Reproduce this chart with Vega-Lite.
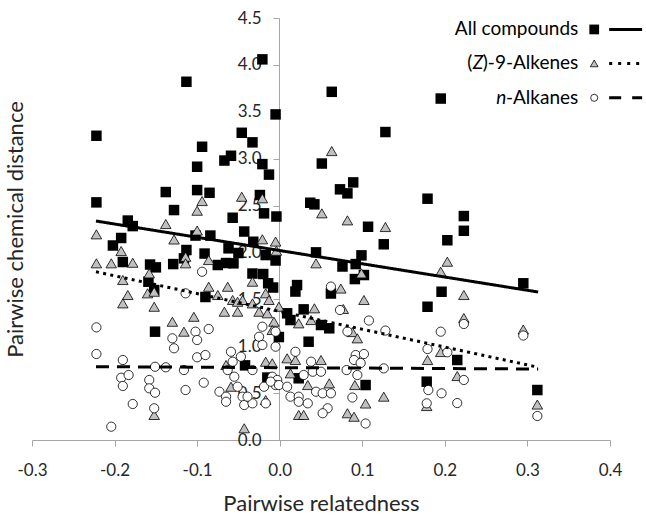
{
  "$schema": "https://vega.github.io/schema/vega-lite/v6.json",
  "width": 578,
  "height": 422,
  "autosize": {"type": "none"},
  "padding": {"left": 32, "top": 18, "right": 36, "bottom": 76},
  "background": "white",
  "config": {"view": {"stroke": null}, "font": "Lato"},
  "datasets": {
    "compounds": [
      {"relatedness":-0.222,"distance":3.244},{"relatedness":-0.222,"distance":2.534},{"relatedness":-0.113,"distance":3.820},{"relatedness":-0.021,"distance":4.059},{"relatedness":-0.005,"distance":3.472},{"relatedness":-0.046,"distance":3.276},{"relatedness":-0.033,"distance":3.174},{"relatedness":-0.094,"distance":3.127},{"relatedness":-0.067,"distance":2.980},{"relatedness":-0.059,"distance":3.031},{"relatedness":-0.100,"distance":2.914},{"relatedness":-0.021,"distance":2.942},{"relatedness":-0.013,"distance":2.830},{"relatedness":-0.138,"distance":2.644},{"relatedness":-0.100,"distance":2.665},{"relatedness":-0.085,"distance":2.636},{"relatedness":-0.128,"distance":2.452},{"relatedness":-0.024,"distance":2.612},{"relatedness":-0.019,"distance":2.417},{"relatedness":-0.004,"distance":2.383},{"relatedness":-0.057,"distance":2.370},{"relatedness":-0.184,"distance":2.340},{"relatedness":-0.178,"distance":2.281},{"relatedness":-0.043,"distance":2.223},{"relatedness":-0.084,"distance":2.180},{"relatedness":-0.102,"distance":2.180},{"relatedness":-0.192,"distance":2.154},{"relatedness":-0.202,"distance":2.074},{"relatedness":-0.032,"distance":2.114},{"relatedness":-0.113,"distance":2.026},{"relatedness":-0.062,"distance":2.044},{"relatedness":-0.050,"distance":1.994},{"relatedness":-0.091,"distance":1.988},{"relatedness":-0.017,"distance":1.972},{"relatedness":-0.190,"distance":1.898},{"relatedness":-0.116,"distance":1.937},{"relatedness":0.063,"distance":3.713},{"relatedness":0.195,"distance":3.641},{"relatedness":0.128,"distance":3.284},{"relatedness":0.051,"distance":2.948},{"relatedness":0.073,"distance":2.673},{"relatedness":0.089,"distance":2.747},{"relatedness":0.082,"distance":2.630},{"relatedness":0.037,"distance":2.530},{"relatedness":0.042,"distance":2.513},{"relatedness":0.179,"distance":2.573},{"relatedness":0.223,"distance":2.388},{"relatedness":0.223,"distance":2.231},{"relatedness":0.107,"distance":2.274},{"relatedness":0.126,"distance":2.087},{"relatedness":0.203,"distance":2.130},{"relatedness":0.099,"distance":1.969},{"relatedness":0.044,"distance":2.001},{"relatedness":-0.157,"distance":1.871},{"relatedness":-0.150,"distance":1.841},{"relatedness":-0.129,"distance":1.876},{"relatedness":-0.159,"distance":1.688},{"relatedness":-0.152,"distance":1.599},{"relatedness":-0.090,"distance":1.525},{"relatedness":-0.151,"distance":1.155},{"relatedness":-0.075,"distance":1.866},{"relatedness":-0.065,"distance":1.887},{"relatedness":-0.056,"distance":1.884},{"relatedness":-0.033,"distance":1.775},{"relatedness":-0.020,"distance":1.770},{"relatedness":-0.014,"distance":1.671},{"relatedness":-0.008,"distance":1.626},{"relatedness":-0.005,"distance":1.914},{"relatedness":-0.042,"distance":0.796},{"relatedness":-0.015,"distance":0.666},{"relatedness":0.021,"distance":1.652},{"relatedness":0.019,"distance":1.583},{"relatedness":0.062,"distance":1.562},{"relatedness":0.076,"distance":1.850},{"relatedness":0.009,"distance":1.351},{"relatedness":0.013,"distance":1.279},{"relatedness":0.029,"distance":1.393},{"relatedness":0.050,"distance":1.226},{"relatedness":0.060,"distance":1.191},{"relatedness":-0.001,"distance":1.098},{"relatedness":0.035,"distance":1.048},{"relatedness":0.023,"distance":0.658},{"relatedness":0.092,"distance":1.876},{"relatedness":0.091,"distance":1.716},{"relatedness":0.102,"distance":1.759},{"relatedness":0.179,"distance":1.421},{"relatedness":0.104,"distance":0.586},{"relatedness":0.178,"distance":0.622},{"relatedness":0.196,"distance":1.581},{"relatedness":0.295,"distance":1.671},{"relatedness":0.215,"distance":0.853},{"relatedness":0.312,"distance":0.533}
    ],
    "alkenes": [
      {"relatedness":-0.222,"distance":2.193},{"relatedness":-0.138,"distance":2.303},{"relatedness":-0.128,"distance":2.138},{"relatedness":-0.100,"distance":2.234},{"relatedness":-0.100,"distance":2.445},{"relatedness":-0.094,"distance":2.548},{"relatedness":-0.046,"distance":2.594},{"relatedness":-0.021,"distance":2.577},{"relatedness":-0.021,"distance":2.140},{"relatedness":-0.005,"distance":2.116},{"relatedness":-0.004,"distance":2.018},{"relatedness":-0.192,"distance":2.015},{"relatedness":0.063,"distance":3.081},{"relatedness":0.051,"distance":2.417},{"relatedness":0.082,"distance":2.342},{"relatedness":0.128,"distance":2.271},{"relatedness":0.203,"distance":1.901},{"relatedness":0.195,"distance":1.794},{"relatedness":-0.222,"distance":1.884},{"relatedness":-0.204,"distance":1.884},{"relatedness":-0.178,"distance":1.890},{"relatedness":-0.190,"distance":1.706},{"relatedness":-0.158,"distance":1.777},{"relatedness":-0.184,"distance":1.546},{"relatedness":-0.190,"distance":1.457},{"relatedness":-0.160,"distance":1.564},{"relatedness":-0.152,"distance":1.581},{"relatedness":-0.152,"distance":1.421},{"relatedness":-0.114,"distance":1.954},{"relatedness":-0.114,"distance":1.884},{"relatedness":-0.086,"distance":1.634},{"relatedness":-0.130,"distance":1.261},{"relatedness":-0.104,"distance":1.314},{"relatedness":-0.116,"distance":1.155},{"relatedness":-0.152,"distance":0.267},{"relatedness":-0.086,"distance":1.919},{"relatedness":-0.075,"distance":1.546},{"relatedness":-0.063,"distance":1.634},{"relatedness":-0.057,"distance":1.493},{"relatedness":-0.051,"distance":1.474},{"relatedness":-0.067,"distance":1.368},{"relatedness":-0.051,"distance":1.368},{"relatedness":-0.033,"distance":1.688},{"relatedness":-0.033,"distance":1.457},{"relatedness":-0.045,"distance":1.493},{"relatedness":-0.025,"distance":1.368},{"relatedness":-0.017,"distance":1.564},{"relatedness":-0.013,"distance":1.493},{"relatedness":-0.015,"distance":1.351},{"relatedness":-0.007,"distance":1.261},{"relatedness":-0.009,"distance":1.173},{"relatedness":-0.065,"distance":0.800},{"relatedness":-0.017,"distance":0.835},{"relatedness":-0.009,"distance":0.818},{"relatedness":-0.059,"distance":0.568},{"relatedness":-0.017,"distance":0.426},{"relatedness":-0.043,"distance":0.125},{"relatedness":-0.001,"distance":1.421},{"relatedness":0.044,"distance":1.884},{"relatedness":0.074,"distance":1.615},{"relatedness":0.042,"distance":1.404},{"relatedness":0.038,"distance":1.279},{"relatedness":0.023,"distance":1.244},{"relatedness":0.009,"distance":0.871},{"relatedness":0.019,"distance":0.853},{"relatedness":0.013,"distance":0.711},{"relatedness":0.050,"distance":0.853},{"relatedness":0.034,"distance":0.586},{"relatedness":0.060,"distance":0.604},{"relatedness":0.023,"distance":0.267},{"relatedness":0.029,"distance":0.267},{"relatedness":0.082,"distance":0.285},{"relatedness":0.099,"distance":1.777},{"relatedness":0.102,"distance":1.493},{"relatedness":0.077,"distance":1.397},{"relatedness":0.088,"distance":1.151},{"relatedness":0.094,"distance":1.084},{"relatedness":0.091,"distance":0.586},{"relatedness":0.104,"distance":0.389},{"relatedness":0.126,"distance":0.462},{"relatedness":0.090,"distance":0.248},{"relatedness":0.179,"distance":0.853},{"relatedness":0.223,"distance":1.546},{"relatedness":0.223,"distance":1.301},{"relatedness":0.295,"distance":1.178},{"relatedness":0.195,"distance":0.938},{"relatedness":0.215,"distance":0.682},{"relatedness":0.312,"distance":0.378},{"relatedness":0.178,"distance":0.362}
    ],
    "alkanes": [
      {"relatedness":-0.222,"distance":1.201},{"relatedness":-0.222,"distance":0.917},{"relatedness":-0.094,"distance":1.794},{"relatedness":-0.114,"distance":1.564},{"relatedness":-0.130,"distance":1.084},{"relatedness":-0.128,"distance":0.978},{"relatedness":-0.102,"distance":1.155},{"relatedness":-0.100,"distance":1.066},{"relatedness":-0.086,"distance":1.183},{"relatedness":-0.100,"distance":0.882},{"relatedness":-0.090,"distance":0.906},{"relatedness":-0.190,"distance":0.853},{"relatedness":-0.192,"distance":0.664},{"relatedness":-0.183,"distance":0.693},{"relatedness":-0.190,"distance":0.576},{"relatedness":-0.151,"distance":0.781},{"relatedness":-0.138,"distance":0.775},{"relatedness":-0.116,"distance":0.746},{"relatedness":-0.158,"distance":0.640},{"relatedness":-0.158,"distance":0.551},{"relatedness":-0.151,"distance":0.504},{"relatedness":-0.114,"distance":0.533},{"relatedness":-0.092,"distance":0.611},{"relatedness":-0.178,"distance":0.384},{"relatedness":-0.152,"distance":0.338},{"relatedness":-0.204,"distance":0.142},{"relatedness":-0.021,"distance":1.208},{"relatedness":-0.025,"distance":1.101},{"relatedness":-0.021,"distance":1.013},{"relatedness":-0.005,"distance":1.155},{"relatedness":-0.005,"distance":0.995},{"relatedness":-0.059,"distance":0.941},{"relatedness":-0.047,"distance":0.888},{"relatedness":-0.057,"distance":0.835},{"relatedness":-0.033,"distance":0.746},{"relatedness":-0.055,"distance":0.675},{"relatedness":-0.009,"distance":0.675},{"relatedness":-0.003,"distance":0.640},{"relatedness":-0.073,"distance":0.515},{"relatedness":-0.065,"distance":0.462},{"relatedness":-0.065,"distance":0.408},{"relatedness":-0.051,"distance":0.568},{"relatedness":-0.045,"distance":0.462},{"relatedness":-0.043,"distance":0.373},{"relatedness":-0.033,"distance":0.391},{"relatedness":-0.019,"distance":0.568},{"relatedness":-0.017,"distance":0.391},{"relatedness":-0.005,"distance":0.586},{"relatedness":-0.011,"distance":0.622},{"relatedness":-0.039,"distance":0.462},{"relatedness":-0.063,"distance":0.746},{"relatedness":0.062,"distance":1.636},{"relatedness":0.073,"distance":1.386},{"relatedness":0.019,"distance":0.941},{"relatedness":0.038,"distance":0.835},{"relatedness":0.040,"distance":0.728},{"relatedness":0.050,"distance":0.728},{"relatedness":0.029,"distance":0.693},{"relatedness":0.081,"distance":0.746},{"relatedness":-0.001,"distance":0.586},{"relatedness":0.009,"distance":0.568},{"relatedness":0.013,"distance":0.462},{"relatedness":0.023,"distance":0.462},{"relatedness":0.023,"distance":0.408},{"relatedness":0.034,"distance":0.391},{"relatedness":0.044,"distance":0.515},{"relatedness":0.052,"distance":0.498},{"relatedness":0.062,"distance":0.498},{"relatedness":0.058,"distance":0.338},{"relatedness":0.052,"distance":0.285},{"relatedness":0.088,"distance":0.453},{"relatedness":0.108,"distance":1.274},{"relatedness":0.128,"distance":1.167},{"relatedness":0.082,"distance":1.157},{"relatedness":0.092,"distance":0.906},{"relatedness":0.102,"distance":0.917},{"relatedness":0.090,"distance":0.853},{"relatedness":0.098,"distance":0.821},{"relatedness":0.094,"distance":0.693},{"relatedness":0.126,"distance":0.764},{"relatedness":0.104,"distance":0.176},{"relatedness":0.195,"distance":1.155},{"relatedness":0.223,"distance":1.237},{"relatedness":0.295,"distance":1.114},{"relatedness":0.179,"distance":0.970},{"relatedness":0.203,"distance":0.935},{"relatedness":0.223,"distance":0.640},{"relatedness":0.180,"distance":0.533},{"relatedness":0.196,"distance":0.498},{"relatedness":0.178,"distance":0.391},{"relatedness":0.215,"distance":0.394},{"relatedness":0.312,"distance":0.256}
    ],
    "trends": [
      {"series":"All compounds","relatedness":-0.2225,"distance":2.335},
      {"series":"All compounds","relatedness":0.313,"distance":1.578},
      {"series":"(Z)-9-Alkenes","relatedness":-0.2225,"distance":1.794},
      {"series":"(Z)-9-Alkenes","relatedness":0.312,"distance":0.778},
      {"series":"n-Alkanes","relatedness":-0.2225,"distance":0.782},
      {"series":"n-Alkanes","relatedness":0.313,"distance":0.757}
    ]
  },
  "layer": [
    {
      "data": {"name": "compounds"},
      "mark": {"type": "point", "shape": "square", "filled": true, "color": "#000000", "size": 110, "opacity": 1},
      "encoding": {
        "x": {
          "field": "relatedness", "type": "quantitative",
          "scale": {"domain": [-0.3, 0.4], "nice": false, "zero": false},
          "axis": {
            "title": "Pairwise relatedness",
            "values": [-0.3, -0.2, -0.1, 0, 0.1, 0.2, 0.3, 0.4],
            "labelExpr": "replace(format(datum.value, '.1f'), '\u2212', '-')",
            "grid": false, "domainColor": "#a6a6a6", "tickColor": "#a6a6a6", "tickSize": 6,
            "labelFontSize": 17, "labelColor": "#262626", "labelPadding": 16, "labelFlush": false, "labelOverlap": false,
            "titleFontSize": 22, "titleFontWeight": "normal", "titleColor": "#262626", "titlePadding": 15
          }
        },
        "y": {
          "field": "distance", "type": "quantitative",
          "scale": {"domain": [0, 4.5], "nice": false, "zero": true},
          "axis": {
            "title": "Pairwise chemical distance",
            "values": [0, 0.5, 1, 1.5, 2, 2.5, 3, 3.5, 4, 4.5],
            "format": ".1f",
            "offset": -247,
            "grid": false, "domainColor": "#a6a6a6", "tickColor": "#a6a6a6", "tickSize": 6,
            "labelFontSize": 17, "labelColor": "#262626", "labelPadding": 12, "labelFlush": false, "labelOverlap": false,
            "titleFontSize": 22, "titleFontWeight": "normal", "titleColor": "#262626",
            "titleX": -264, "titleY": 211, "titleAngle": -90, "titleAlign": "center", "titleBaseline": "middle"
          }
        }
      }
    },
    {
      "data": {"name": "alkenes"},
      "mark": {"type": "point", "shape": "triangle-up", "filled": true, "fill": "#c0c0c0", "stroke": "#000000", "strokeWidth": 0.8, "size": 110, "opacity": 1},
      "encoding": {
        "x": {"field": "relatedness", "type": "quantitative"},
        "y": {"field": "distance", "type": "quantitative"}
      }
    },
    {
      "data": {"name": "alkanes"},
      "mark": {"type": "point", "shape": "circle", "filled": true, "fill": "#ffffff", "stroke": "#000000", "strokeWidth": 0.8, "size": 85, "opacity": 1},
      "encoding": {
        "x": {"field": "relatedness", "type": "quantitative"},
        "y": {"field": "distance", "type": "quantitative"}
      }
    },
    {
      "data": {"name": "trends"},
      "mark": {"type": "line", "color": "#000000", "strokeWidth": 3, "strokeCap": "butt"},
      "encoding": {
        "x": {"field": "relatedness", "type": "quantitative"},
        "y": {"field": "distance", "type": "quantitative"},
        "detail": {"field": "series", "type": "nominal"},
        "strokeDash": {
          "field": "series", "type": "nominal", "legend": null,
          "scale": {"domain": ["All compounds", "(Z)-9-Alkenes", "n-Alkanes"], "range": [[1, 0], [3, 4.3], [13, 8]]}
        }
      }
    },
    {
      "data": {"values": [{}]},
      "mark": {"type": "text", "text": "All compounds", "align": "right", "baseline": "middle", "fontSize": 19, "font": "Lato", "color": "#000000"},
      "encoding": {"x": {"datum": 0.3616, "type": "quantitative"}, "y": {"datum": 4.378, "type": "quantitative"}}
    },
    {
      "data": {"values": [{}]},
      "mark": {"type": "text", "text": ")-9-Alkenes", "align": "right", "baseline": "middle", "fontSize": 19, "font": "Lato", "color": "#000000"},
      "encoding": {"x": {"datum": 0.3616, "type": "quantitative"}, "y": {"datum": 4.016, "type": "quantitative"}}
    },
    {
      "data": {"values": [{}]},
      "mark": {"type": "text", "text": "Z", "align": "right", "baseline": "middle", "fontSize": 19, "font": "Lato", "fontStyle": "italic", "color": "#000000", "dx": -95},
      "encoding": {"x": {"datum": 0.3616, "type": "quantitative"}, "y": {"datum": 4.016, "type": "quantitative"}}
    },
    {
      "data": {"values": [{}]},
      "mark": {"type": "text", "text": "(", "align": "right", "baseline": "middle", "fontSize": 19, "font": "Lato", "color": "#000000", "dx": -106},
      "encoding": {"x": {"datum": 0.3616, "type": "quantitative"}, "y": {"datum": 4.016, "type": "quantitative"}}
    },
    {
      "data": {"values": [{}]},
      "mark": {"type": "text", "text": "-Alkanes", "align": "right", "baseline": "middle", "fontSize": 19, "font": "Lato", "color": "#000000"},
      "encoding": {"x": {"datum": 0.3616, "type": "quantitative"}, "y": {"datum": 3.649, "type": "quantitative"}}
    },
    {
      "data": {"values": [{}]},
      "mark": {"type": "text", "text": "n", "align": "right", "baseline": "middle", "fontSize": 19, "font": "Lato", "fontStyle": "italic", "color": "#000000", "dx": -72},
      "encoding": {"x": {"datum": 0.3616, "type": "quantitative"}, "y": {"datum": 3.649, "type": "quantitative"}}
    },
    {
      "data": {"values": [{}]},
      "mark": {"type": "point", "shape": "square", "filled": true, "color": "#000000", "size": 95, "opacity": 1},
      "encoding": {"x": {"datum": 0.3809, "type": "quantitative"}, "y": {"datum": 4.378, "type": "quantitative"}}
    },
    {
      "data": {"values": [{}]},
      "mark": {"type": "point", "shape": "triangle-up", "filled": true, "fill": "#c0c0c0", "stroke": "#000000", "strokeWidth": 0.8, "size": 60, "opacity": 1},
      "encoding": {"x": {"datum": 0.3809, "type": "quantitative"}, "y": {"datum": 4.016, "type": "quantitative"}}
    },
    {
      "data": {"values": [{}]},
      "mark": {"type": "point", "shape": "circle", "filled": true, "fill": "#ffffff", "stroke": "#000000", "strokeWidth": 0.8, "size": 50, "opacity": 1},
      "encoding": {"x": {"datum": 0.3809, "type": "quantitative"}, "y": {"datum": 3.649, "type": "quantitative"}}
    },
    {
      "data": {"values": [{}]},
      "mark": {"type": "rule", "color": "#000000", "strokeWidth": 3},
      "encoding": {"x": {"datum": 0.399, "type": "quantitative"}, "x2": {"datum": 0.4389}, "y": {"datum": 4.378, "type": "quantitative"}}
    },
    {
      "data": {"values": [{}]},
      "mark": {"type": "rule", "color": "#000000", "strokeWidth": 3, "strokeDash": [3, 6]},
      "encoding": {"x": {"datum": 0.399, "type": "quantitative"}, "x2": {"datum": 0.4389}, "y": {"datum": 4.016, "type": "quantitative"}}
    },
    {
      "data": {"values": [{}]},
      "mark": {"type": "rule", "color": "#000000", "strokeWidth": 3, "strokeDash": [12, 11]},
      "encoding": {"x": {"datum": 0.399, "type": "quantitative"}, "x2": {"datum": 0.4389}, "y": {"datum": 3.649, "type": "quantitative"}}
    }
  ]
}
